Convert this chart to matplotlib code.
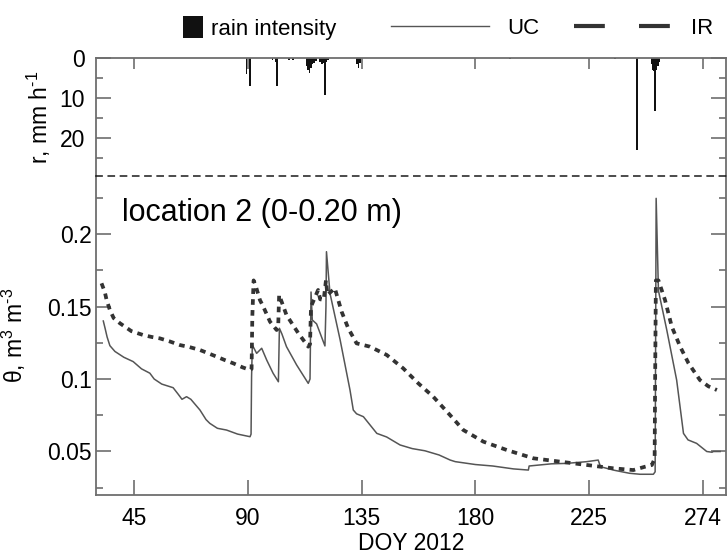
import matplotlib
matplotlib.use('Agg')
import matplotlib.pyplot as plt
from matplotlib.lines import Line2D
from matplotlib.patches import Patch

plt.rcParams['font.family'] = ['Liberation Sans', 'DejaVu Sans']
plt.rcParams['mathtext.fontset'] = 'custom'
plt.rcParams['mathtext.rm'] = 'Liberation Sans'
plt.rcParams['mathtext.it'] = 'Liberation Sans:italic'
plt.rcParams['mathtext.default'] = 'regular'

# rain intensity, mm h-1
rain_doy = [89.5, 91.0, 99.8, 101.2, 101.6, 106.2, 107.8,
            113.3, 113.8, 114.4, 114.9, 115.5, 116.3, 117.1,
            118.6, 119.3, 120.0, 120.5, 121.0, 121.6,
            133.3, 133.8, 134.3, 193.7, 235.0, 243.7,
            249.6, 250.2, 250.7, 251.0, 251.5, 252.0, 252.6]
rain_r = [4.0, 6.9, 0.6, 1.0, 6.9, 0.4, 0.4,
          2.0, 3.0, 3.8, 2.5, 1.5, 1.2, 0.8,
          1.0, 1.5, 1.2, 9.2, 1.0, 0.6,
          1.5, 2.6, 1.2, 0.3, 0.3, 23.0,
          1.5, 3.0, 3.3, 13.3, 3.0, 2.0, 1.0]

# soil water content, UC
uc_doy = [32.9, 33.6, 34.4, 35.5, 37.5, 41.0, 44.7, 48.0, 51.3, 53.0,
          56.0, 60.5, 62.5, 64.0, 65.8, 67.5, 71.1, 73.5, 75.0, 78.0,
          81.6, 86.0, 90.9, 91.3, 91.5, 91.8, 93.5, 95.5, 97.5, 100.0,
          102.1, 102.5, 103.5, 105.3, 109.3, 113.9, 114.6, 115.0, 115.5, 117.2,
          120.5, 120.9, 121.1, 122.5, 126.5, 130.4, 131.7, 133.0, 135.7, 141.0,
          144.9, 150.2, 155.0, 160.0, 165.6, 170.0, 172.0, 180.0, 186.8, 195.0,
          200.9, 201.2, 210.0, 216.0, 224.0, 228.5, 229.4, 235.0, 240.8, 245.0,
          250.3, 251.0, 251.4, 252.3, 255.6, 259.5, 262.2, 264.0, 267.4, 271.4,
          273.5, 274.0, 276.7]
uc = [0.140, 0.135, 0.129, 0.123, 0.119, 0.115, 0.112, 0.107, 0.104, 0.100,
      0.0965, 0.094, 0.0895, 0.086, 0.0878, 0.086, 0.0786, 0.072, 0.0694, 0.066,
      0.0648, 0.062, 0.0602, 0.062, 0.1016, 0.1234, 0.1177, 0.1212, 0.113, 0.104,
      0.0981, 0.135, 0.131, 0.1223, 0.1097, 0.097, 0.100, 0.160, 0.1407, 0.138,
      0.1228, 0.150, 0.1878, 0.159, 0.127, 0.0924, 0.0786, 0.076, 0.074, 0.0625,
      0.060, 0.0545, 0.052, 0.0505, 0.0476, 0.0441, 0.043, 0.041, 0.040, 0.038,
      0.0372, 0.040, 0.0415, 0.0418, 0.043, 0.0441, 0.0395, 0.037, 0.035, 0.0343,
      0.0343, 0.036, 0.2246, 0.161, 0.1338, 0.0993, 0.0625, 0.058, 0.0556, 0.050,
      0.0495, 0.050, 0.050]

# soil water content, IR
ir_doy = [32.2, 33.5, 34.2, 35.5, 37.0, 39.5, 44.0, 48.7, 52.0, 55.3,
          59.0, 63.2, 67.0, 71.1, 74.0, 77.7, 81.0, 84.3, 88.0, 90.9,
          91.5, 91.8, 92.3, 93.0, 94.8, 96.1, 98.8, 101.4, 102.0, 102.4,
          105.3, 110.0, 113.9, 114.6, 115.0, 117.8, 118.6, 120.0, 120.9, 121.5,
          124.4, 127.1, 129.7, 133.0, 138.3, 144.9, 151.4, 157.4, 163.3, 170.0,
          175.2, 183.1, 192.4, 202.9, 213.4, 224.0, 234.5, 242.4, 247.0, 249.7,
          250.8, 251.0, 251.3, 252.3, 254.9, 257.6, 260.9, 264.2, 268.7, 272.0,
          275.4]
ir = [0.166, 0.160, 0.1545, 0.1476, 0.142, 0.1384, 0.133, 0.1303, 0.129, 0.128,
      0.126, 0.1234, 0.122, 0.120, 0.118, 0.1154, 0.113, 0.1108, 0.108, 0.1062,
      0.107, 0.143, 0.168, 0.165, 0.1545, 0.150, 0.1395, 0.1338, 0.135, 0.158,
      0.1441, 0.1315, 0.1223, 0.124, 0.150, 0.1614, 0.155, 0.1545, 0.168, 0.158,
      0.1626, 0.1464, 0.135, 0.1246, 0.1223, 0.1166, 0.1074, 0.097, 0.0878, 0.075,
      0.0648, 0.0568, 0.051, 0.0453, 0.043, 0.0407, 0.0384, 0.0372, 0.0395, 0.0407,
      0.045, 0.100, 0.168, 0.168, 0.1545, 0.136, 0.1223, 0.1108, 0.0993, 0.095,
      0.0924]

xtick_pos = [45, 90, 135, 180, 225, 270]
xtick_lab = ['45', '90', '135', '180', '225', '274']
ytick_pos = [0.05, 0.1, 0.15, 0.2]
ytick_lab = ['0.05', '0.1', '0.15', '0.2']
ytick_minor = [0.025, 0.075, 0.125, 0.175, 0.225]

spine_c = '#6e6e6e'

fig = plt.figure(figsize=(7.27, 5.54), dpi=100)
ax = fig.add_axes([0.132, 0.1065, 0.8666, 0.5758])
ax_r = fig.add_axes([0.132, 0.6823, 0.8666, 0.2130], sharex=ax)
ax_r.patch.set_alpha(0)

# rain panel
ax_r.bar(rain_doy, rain_r, width=0.7, color='#111111', edgecolor='none')
ax_r.set_ylim(29.4, 0)
ax_r.set_yticks([0, 10, 20])
ax_r.set_yticks([5, 15, 25], minor=True)
ax_r.tick_params(axis='y', which='both', direction='in', left=True, right=True,
                 colors=spine_c, labelcolor='black', labelsize=16.5, pad=8)
ax_r.tick_params(axis='y', which='major', length=11, width=1.2)
ax_r.tick_params(axis='y', which='minor', length=5, width=1.2)
ax_r.tick_params(axis='x', which='both', direction='in', top=True, bottom=False,
                 labelbottom=False, length=8, width=1.2, colors=spine_c)
ax_r.set_ylabel('r, mm h$^{\u20101}$', fontsize=16.5)
ax_r.yaxis.set_label_coords(-0.068, 0.5)
for s in ['top', 'left', 'right']:
    ax_r.spines[s].set_color(spine_c)
    ax_r.spines[s].set_linewidth(1.3)
ax_r.spines['bottom'].set_linestyle((0, (4, 4)))
ax_r.spines['bottom'].set_color('#1a1a1a')
ax_r.spines['bottom'].set_linewidth(1.1)
ax_r.spines['bottom'].set_zorder(5)

# water content panel
ax.plot(uc_doy, uc, color='#555555', lw=1.1)
ax.plot(ir_doy, ir, color='#333333', lw=2.7, dashes=(1.5, 1.4))
ax.set_xlim(30, 279)
ax.set_ylim(0.02, 0.24)
ax.set_xticks(xtick_pos, labels=xtick_lab)
ax.set_yticks(ytick_pos, labels=ytick_lab)
ax.set_yticks(ytick_minor, minor=True)
ax.tick_params(axis='x', which='both', direction='in', top=False, bottom=True,
               length=11, width=1.2, colors=spine_c, labelcolor='black',
               labelsize=16.5, pad=9)
ax.tick_params(axis='y', which='both', direction='in', left=True, right=True,
               colors=spine_c, labelcolor='black', labelsize=16.5, pad=3)
ax.tick_params(axis='y', which='major', length=11, width=1.2)
ax.tick_params(axis='y', which='minor', length=5, width=1.2)
ax.spines['top'].set_visible(False)
for s in ['bottom', 'left', 'right']:
    ax.spines[s].set_color(spine_c)
    ax.spines[s].set_linewidth(1.3)
ax.set_xlabel('DOY 2012', fontsize=16.5, labelpad=1)
ax.set_ylabel('θ, m$^3$ m$^{\u20103}$', fontsize=16.5)
ax.yaxis.set_label_coords(-0.108, 0.5)
ax.text(0.041, 0.885, 'location 2 (0-0.20 m)', transform=ax.transAxes,
        fontsize=22, va='center', ha='left')

# legend row above the plot
fig.legend(handles=[Patch(facecolor='#111111', edgecolor='none')],
           labels=['rain intensity'], loc='center left',
           bbox_to_anchor=(183 / 727, 1 - 28 / 554), frameon=False,
           borderpad=0, borderaxespad=0, handlelength=0.9, handleheight=1.13,
           handletextpad=0.36, fontsize=16)
fig.legend(handles=[Line2D([], [], color='#555555', lw=1.0),
                    Line2D([], [], color='#333333', lw=3, dashes=(7.4, 8.2))],
           labels=['UC', 'IR'], loc='center left', ncol=2,
           bbox_to_anchor=(391 / 727, 1 - 28 / 554), frameon=False,
           borderpad=0, borderaxespad=0, handlelength=4.4, handletextpad=0.85,
           columnspacing=1.55, fontsize=16)

fig.savefig('out.png', dpi=100)
